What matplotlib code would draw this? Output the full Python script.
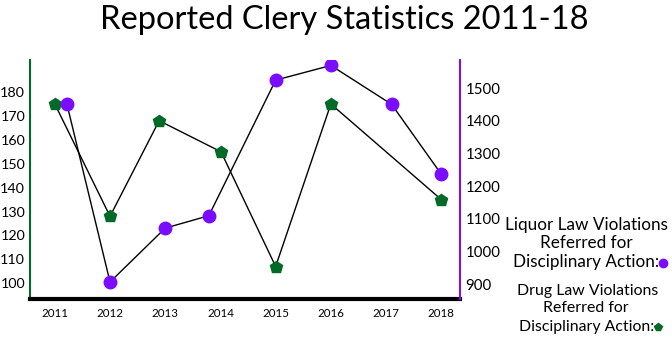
"""
Reported Clery Statistics 2011-18: drug (left axis) vs liquor (right axis) referrals.
"""
import matplotlib
matplotlib.use("Agg")
import matplotlib.pyplot as plt
from matplotlib.lines import Line2D

plt.rcParams["font.family"] = ["Lato", "DejaVu Sans"]

YEARS = [2011, 2012, 2013, 2014, 2015, 2016, 2017, 2018]

# drug law violations (left axis) - no 2017 point in the source
drug_x = [2011, 2012, 2012.89, 2014.01, 2015, 2016, 2018]
drug_y = [175, 128, 168, 155, 107, 175, 135]

# liquor law violations (right axis)
liquor_x = [2011.22, 2012, 2013, 2013.79, 2015, 2016, 2017.1, 2018]
liquor_y = [1451, 907, 1072, 1110, 1525, 1570, 1451, 1237]

left_ticks = [100, 110, 120, 130, 140, 150, 160, 170, 180]
right_ticks = [900, 1000, 1100, 1200, 1300, 1400, 1500]

GREEN = "#006b26"
PURPLE = "#7a0cff"

fig = plt.figure(figsize=(6.72, 3.53), dpi=100)
ax = fig.add_axes([0.0446, 0.1516, 0.64, 0.6784])
ax2 = ax.twinx()

ax.plot(drug_x, drug_y, color="black", lw=1, zorder=2)
ax.plot(drug_x, drug_y, ls="none", marker="p", ms=9, color=GREEN, mec=GREEN, zorder=3)
ax2.plot(liquor_x, liquor_y, color="black", lw=1, zorder=2)
ax2.plot(liquor_x, liquor_y, ls="none", marker="o", ms=9, color=PURPLE, mec=PURPLE, zorder=3)

ax.set_xlim(2010.55, 2018.34)
ax.set_ylim(93.2, 193.4)
ax2.set_ylim(853.5, 1586.6)

ax.set_xticks(YEARS)
ax.set_xticklabels([str(y) for y in YEARS], fontsize=8.3)
ax.set_yticks(left_ticks)
ax.set_yticklabels([str(v) for v in left_ticks], fontsize=10.3)
ax2.set_yticks(right_ticks)
ax2.set_yticklabels([str(v) for v in right_ticks], fontsize=10.8)
ax.tick_params(axis="x", length=0, pad=6)
ax.tick_params(axis="y", length=0, pad=3.5)
ax2.tick_params(axis="y", length=0, pad=4)

for a in (ax, ax2):
    a.spines["top"].set_visible(False)
ax.spines["right"].set_visible(False)
ax2.spines["left"].set_visible(False)
ax2.spines["bottom"].set_visible(False)
ax.spines["left"].set_color(GREEN)
ax.spines["left"].set_linewidth(1.5)
ax2.spines["right"].set_color(PURPLE)
ax2.spines["right"].set_linewidth(1.5)
ax.spines["bottom"].set_color("black")
ax.spines["bottom"].set_linewidth(3)

fig.text(0.513, 0.943, "Reported Clery Statistics 2011-18", ha="center", va="center",
         fontsize=23.5)

# legend-ish text on the right
H = 353.0
def ftext(x, y, s, fs):
    fig.text(x / 672, 1 - y / H, s, ha="center", va="center", fontsize=fs)

ftext(586, 225, "Liquor Law Violations", 12.3)
ftext(586, 243, "Referred for", 12.3)
ftext(586, 262, "Disciplinary Action:", 12.3)
ftext(588, 291, "Drug Law Violations", 11.4)
ftext(586, 308, "Referred for", 11.4)
ftext(587, 327, "Disciplinary Action:", 11.4)

fig.add_artist(Line2D([663 / 672], [1 - 263 / H], marker="o", ms=6, color=PURPLE,
                      transform=fig.transFigure))
fig.add_artist(Line2D([658 / 672], [1 - 327 / H], marker="p", ms=6, color=GREEN,
                      transform=fig.transFigure))

fig.savefig("out.png", dpi=100)
